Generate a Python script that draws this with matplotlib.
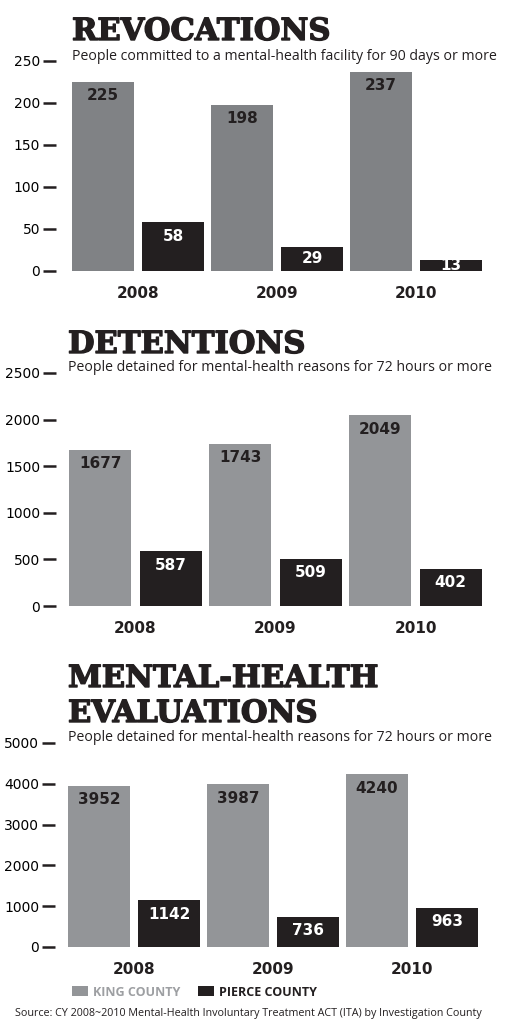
import matplotlib
matplotlib.use('Agg')
import matplotlib.pyplot as plt
import matplotlib.patheffects as pe
import numpy as np

# data
years = ['2008', '2009', '2010']
revocations_king = [225, 198, 237]
revocations_pierce = [58, 29, 13]
detentions_king = [1677, 1743, 2049]
detentions_pierce = [587, 509, 402]
evaluations_king = [3952, 3987, 4240]
evaluations_pierce = [1142, 736, 963]
revocations_ticks = [0, 50, 100, 150, 200, 250]
detentions_ticks = [0, 500, 1000, 1500, 2000, 2500]
evaluations_ticks = [0, 1000, 2000, 3000, 4000, 5000]
legend_labels = ['KING COUNTY', 'PIERCE COUNTY']
subtitle_90 = 'People committed to a mental-health facility for 90 days or more'
subtitle_72 = 'People detained for mental-health reasons for 72 hours or more'
source_text = 'Source: CY 2008~2010 Mental-Health Involuntary Treatment ACT (ITA) by Investigation County'

W, H = 532, 1023
DARK = '#231f20'
fig = plt.figure(figsize=(W / 100, H / 100), dpi=100)
fig.patch.set_facecolor('white')

SERIF = 'DejaVu Serif'
NUM = 'DejaVu Sans'
TXT = 'Open Sans'


def make_axes(left, top, right, bottom):
    return fig.add_axes([left / W, 1 - bottom / H, (right - left) / W, (bottom - top) / H])


def panel(ax, king, pierce, ticks, gray, tick_gap):
    x = np.arange(len(years))
    w = 0.446
    b1 = ax.bar(x - 0.252, king, w, color=gray, linewidth=0)
    b2 = ax.bar(x + 0.252, pierce, w, color=DARK, linewidth=0)
    ax.set_xlim(-0.475, 2.475)
    ax.set_ylim(0, ticks[-1])
    ax.set_yticks(ticks)
    ax.set_yticklabels([str(t) for t in ticks], fontfamily=NUM, fontweight='bold',
                       fontsize=8.5, color=DARK)
    ax.set_xticks(x)
    ax.set_xticklabels(years, fontfamily=NUM, fontweight='bold', fontsize=11, color=DARK)
    ax.tick_params(axis='x', length=0, pad=11)
    ax.tick_params(axis='y', length=9.4, width=1.8, color=DARK, pad=2)
    for s in ['top', 'right', 'bottom']:
        ax.spines[s].set_visible(False)
    ax.spines['left'].set_position(('outward', tick_gap))
    ax.spines['left'].set_visible(False)
    ax.set_facecolor('none')
    # value labels inside bars
    for bars, vals, col in [(b1, king, DARK), (b2, pierce, 'white')]:
        for rect, v in zip(bars, vals):
            cx = rect.get_x() + rect.get_width() / 2
            h_px = ax.transData.transform((0, v))[1] - ax.transData.transform((0, 0))[1]
            off = min(14, h_px / 2)
            ax.annotate(str(v), (cx, v), xytext=(0, -off), textcoords='offset pixels',
                        ha='center', va='center', fontfamily=NUM, fontweight='bold',
                        fontsize=11, color=col)
    return b1, b2


ax1 = make_axes(72, 61, 482, 271)
panel(ax1, revocations_king, revocations_pierce, revocations_ticks, '#808285', 11.5)
ax2 = make_axes(69, 373, 482, 606)
panel(ax2, detentions_king, detentions_pierce, detentions_ticks, '#939598', 9.4)
ax3 = make_axes(68, 743, 478, 947)
kb, pb = panel(ax3, evaluations_king, evaluations_pierce, evaluations_ticks, '#939598', 9.4)


def ftext(xp, yp, s, **kw):
    return fig.text(xp / W, 1 - yp / H, s, va='baseline', **kw)


# titles (slightly thickened to look like a heavy slab serif)
thick = [pe.withStroke(linewidth=1.0, foreground=DARK)]
for xp, yp, s in [(72, 40, 'REVOCATIONS'), (68, 353, 'DETENTIONS'),
                  (68, 687, 'MENTAL-HEALTH'), (68, 722, 'EVALUATIONS')]:
    ftext(xp, yp, s, fontfamily=SERIF, fontweight='bold', fontsize=22, color=DARK,
          path_effects=thick)

# subtitles
ftext(72, 60, subtitle_90, fontfamily=TXT, fontsize=10.2, color=DARK)
ftext(68, 371, subtitle_72, fontfamily=TXT, fontsize=10.2, color=DARK)
ftext(68, 741, subtitle_72, fontfamily=TXT, fontsize=10.2, color=DARK)

# legend
leg = fig.legend([kb, pb], legend_labels, loc='center left',
                 bbox_to_anchor=(72 / W, 1 - 992 / H), ncol=2, frameon=False,
                 handlelength=1.3, handleheight=0.8, handletextpad=0.4,
                 columnspacing=1.4, borderpad=0, borderaxespad=0,
                 prop={'family': TXT, 'weight': 'bold', 'size': 9})
leg.get_texts()[0].set_color('#9d9fa2')
leg.get_texts()[1].set_color(DARK)

# source
ftext(15, 1016, source_text, fontfamily=TXT, fontsize=7.75, color=DARK)

fig.savefig('out.png', dpi=100, facecolor='white')
